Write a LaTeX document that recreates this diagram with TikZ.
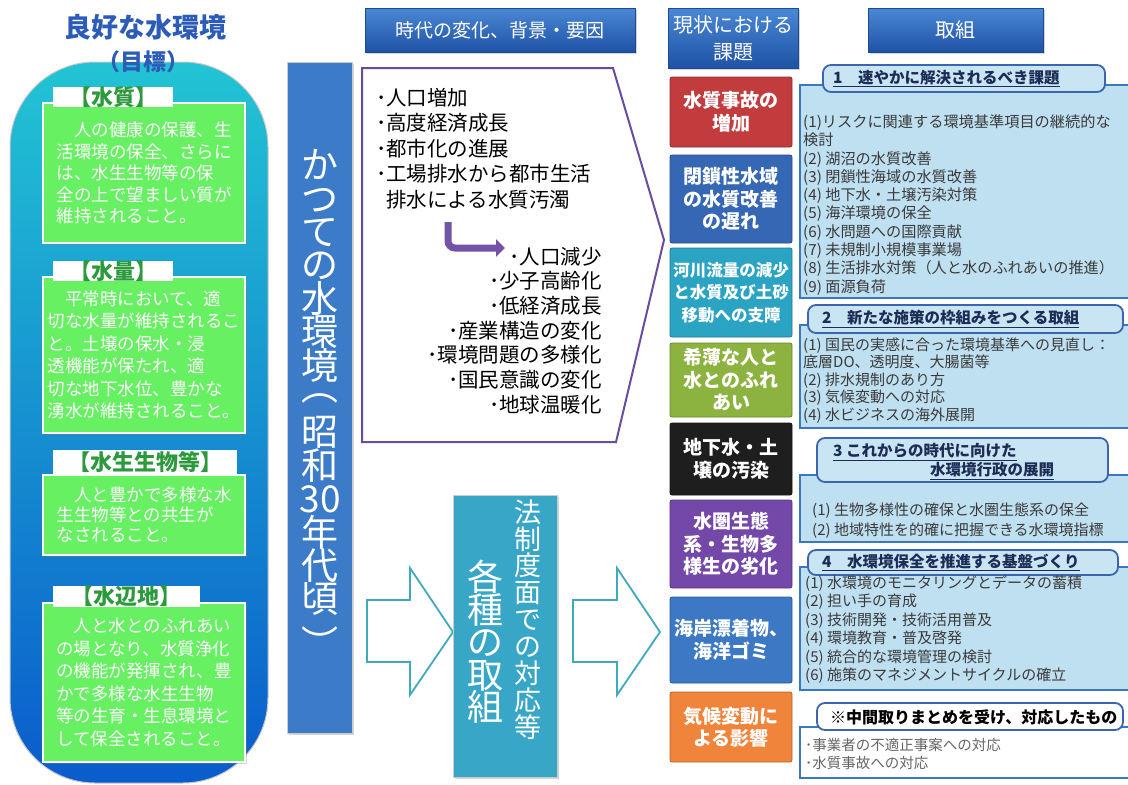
\documentclass[tikz,border=0pt]{standalone}
\usepackage{fontspec}
\usepackage{graphicx}
\setmainfont{Noto Sans CJK JP}
\usetikzlibrary{shadows,arrows.meta}
\definecolor{capTop}{HTML}{22C4D4}
\definecolor{capMid}{HTML}{1597D8}
\definecolor{capBot}{HTML}{0A5CCC}
\definecolor{gfill}{HTML}{66F062}
\definecolor{gtext}{HTML}{2C9A3C}
\definecolor{titleBlue}{HTML}{2C5CB8}
\definecolor{hdrTop}{HTML}{4A88D4}
\definecolor{hdrBot}{HTML}{1F52A6}
\definecolor{hdrLine}{HTML}{1E4A90}
\definecolor{pastBlue}{HTML}{3B7BC8}
\definecolor{kakuTeal}{HTML}{38A6C6}
\definecolor{pentLine}{HTML}{6A4C9E}
\definecolor{arrPurple}{HTML}{7452A6}
\definecolor{arrTeal}{HTML}{3FA9BF}
\definecolor{iRed}{HTML}{C23B3D}
\definecolor{iNavy}{HTML}{3567B4}
\definecolor{iTeal}{HTML}{2BA3C3}
\definecolor{iOlive}{HTML}{8CB23F}
\definecolor{iBlack}{HTML}{1E1E1E}
\definecolor{iPurple}{HTML}{7448A8}
\definecolor{iBlue}{HTML}{3C78C3}
\definecolor{iOrange}{HTML}{F0843A}
\definecolor{pfill}{HTML}{BFE0F1}
\definecolor{pline}{HTML}{3A78C2}
\definecolor{tfill}{HTML}{C9E5F4}
\definecolor{tline}{HTML}{3A66B0}
\definecolor{ttext}{HTML}{1C2C55}
\definecolor{itext}{HTML}{3A3A3A}
\newcommand{\vfont}[2]{\fontsize{#1}{#2}\selectfont\lineskiplimit-60pt\relax}
\begin{document}
\begin{tikzpicture}[x=1pt,y=-1pt,
  every node/.style={inner sep=0pt},
  shad/.style={drop shadow={shadow xshift=1.5pt,shadow yshift=-2pt,opacity=0.35}},
  capsule/.style={rounded corners=85, top color=capTop, middle color=capMid, bottom color=capBot, draw=gray!45, line width=1},
  hdr/.style={shad, draw=hdrLine, line width=0.6, top color=hdrTop, bottom color=hdrBot, text=white, align=center},
  colbox/.style={shad, draw=gray!40, line width=0.8, fill=#1},
  vt/.style={text=white, align=center, text width=46},
  issue/.style={minimum width=122, text=white, align=center, rounded corners=2, font=\bfseries\fontsize{19}{22.5}\selectfont, draw=#1!75!black, fill=#1, line width=0.8},
  gbox/.style={shad, fill=gfill, draw=white, line width=2, minimum width=202, text=white, align=left},
  gtab/.style={fill=white, text=gtext, font=\bfseries\fontsize{22}{24}\selectfont},
  pbody/.style={fill=pfill, draw=pline, line width=1.2, minimum width=335},
  ptab/.style={fill=tfill, draw=tline, line width=1.8, rounded corners=8},
  ptitle/.style={text=ttext, font=\bfseries\fontsize{15.5}{19}\selectfont, anchor=west},
  pitem/.style={text=itext, align=left, anchor=north west},
  pent/.style={fill=white, draw=pentLine, line width=2, line join=miter},
  bigarr/.style={fill=white, draw=arrTeal, line width=1.8, line join=miter},
  larrow/.style={draw=arrPurple, line width=7, rounded corners=7, -{Triangle[length=9pt,width=17pt]}}
]
\useasboundingbox (0,0) rectangle (1128,785);

% ---------------- left capsule ----------------
\node[capsule, minimum width=258, minimum height=721] (cap) at (139,422.5) {};
\node[font=\bfseries\fontsize{27}{30}\selectfont, text=titleBlue] (title) at (145,27) {良好な水環境};
\node[font=\bfseries\fontsize{23}{26}\selectfont, text=titleBlue] (goal) at (143,62) {（目標）};

\node[gbox, minimum height=140, font=\fontsize{17.5}{21.5}\selectfont] (gb1) at (144,173)
  {　人の健康の保護、生\\活環境の保全、さらに\\は、水生生物等の保\\全の上で望ましい質が\\維持されること。};
\node[gbox, minimum height=156, font=\fontsize{17.5}{22.5}\selectfont] (gb2) at (144,355)
  {　平常時において、適\\切な水量が維持されるこ\\と。土壌の保水・浸\\透機能が保たれ、適\\切な地下水位、豊かな\\湧水が維持されること。};
\node[gbox, minimum height=80, font=\fontsize{17.5}{20}\selectfont] (gb3) at (144,515)
  {　人と豊かで多様な水\\生生物等との共生が\\なされること。};
\node[gbox, minimum height=159, font=\fontsize{17.5}{22.5}\selectfont] (gb4) at (144,682.5)
  {　人と水とのふれあい\\の場となり、水質浄化\\の機能が発揮され、豊\\かで多様な水生生物\\等の生育・生息環境と\\して保全されること。};
\node[gtab, minimum width=120, minimum height=20] (gt1) at (113,97) {【水質】};
\node[gtab, minimum width=120, minimum height=20] (gt2) at (113,271) {【水量】};
\node[gtab, minimum width=184, minimum height=25] (gt3) at (145,462) {【水生生物等】};
\node[gtab, minimum width=147, minimum height=21] (gt4) at (126.5,596) {【水辺地】};

% ---------------- headers ----------------
\node[hdr, minimum width=270, minimum height=44, font=\fontsize{19}{23}\selectfont] (h1) at (500,30) {時代の変化、背景・要因};
\node[hdr, minimum width=130, minimum height=60, font=\fontsize{20}{27}\selectfont] (h2) at (733,38) {現状における\\課題};
\node[hdr, minimum width=175, minimum height=44, font=\fontsize{20}{23}\selectfont] (h3) at (955.5,30) {取組};

% ---------------- past column ----------------
\node[colbox=pastBlue, minimum width=65, minimum height=671] (past) at (319.5,397.5) {};
\node[vt, font={\vfont{37}{33.4}}] (pastT) at (320,403.5)
  {か\\つ\\て\\の\\水\\環\\境\\\raisebox{0.32em}{︵}\\昭\\和\\30\\年\\代\\頃\\\raisebox{-0.3em}{︶}};

% ---------------- pentagon ----------------
\draw[pent] (362,68) -- (613,68) -- (664,240) -- (616,442) -- (362,442) -- cycle;
\node[anchor=north west, align=left, font=\fontsize{20.5}{25.5}\selectfont] (oldL) at (376,87.75)
  {･人口増加\\･高度経済成長\\･都市化の進展\\･工場排水から都市生活\\\hspace*{0.5em}排水による水質汚濁};
\node[anchor=north east, align=right, font=\fontsize{20.5}{24.7}\selectfont] (newL) at (602,246.75)
  {･人口減少\\･少子高齢化\\･低経済成長\\･産業構造の変化\\･環境問題の多様化\\･国民意識の変化\\･地球温暖化};
\coordinate (la) at (448,222);
\coordinate (lb) at (505,248);
\draw[larrow] (la) |- (lb);

% ---------------- big arrows ----------------
\draw[bigarr] (367,600) -- (410,600) -- (410,568) -- (453,632) -- (410,695) -- (410,662) -- (367,662) -- cycle;
\draw[bigarr] (573,600) -- (617,600) -- (617,568) -- (660,632) -- (617,695) -- (617,662) -- (573,662) -- cycle;

% ---------------- kakushu box ----------------
\node[colbox=kakuTeal, minimum width=104, minimum height=282] (kaku) at (505,636) {};
\node[vt, font={\vfont{36}{32.5}}] (kakuA) at (485,642)
  {各\\種\\の\\取\\組};
\node[vt, text width=30, font={\vfont{27}{26.9}}] (kakuB) at (528,619.5)
  {法\\制\\度\\面\\で\\の\\対\\応\\等};

% ---------------- issues ----------------
\node[issue=iRed, minimum height=70] (i1) at (731,112) {水質事故の\\増加};
\node[issue=iNavy, minimum height=88] (i2) at (731,199) {閉鎖性水域\\の水質改善\\の遅れ};
\node[issue=iTeal, minimum height=89, font=\bfseries\fontsize{16.5}{22.5}\selectfont] (i3) at (731,292.5) {河川流量の減少\\と水質及び土砂\\移動への支障};
\node[issue=iOlive, minimum height=74] (i4) at (731,380) {希薄な人と\\水とのふれ\\あい};
\node[issue=iBlack, minimum height=72] (i5) at (731,459) {地下水・土\\壌の汚染};
\node[issue=iPurple, minimum height=88] (i6) at (731,544) {水圏生態\\系・生物多\\様生の劣化};
\node[issue=iBlue, minimum height=86] (i7) at (731,640) {海岸漂着物、\\海洋ゴミ};
\node[issue=iOrange, minimum height=70] (i8) at (731,727) {気候変動に\\よる影響};

% ---------------- panels ----------------
\node[pbody, minimum height=213] (p1) at (967.5,191.5) {};
\node[ptab, minimum width=282, minimum height=27] (p1t) at (964,78.5) {};
\node[ptitle] (p1tt) at (833,78.5) {\underline{1　速やかに解決されるべき課題}};
\node[pitem, font=\fontsize{15.2}{18.3}\selectfont] (p1i) at (803,114.4)
  {(1)リスクに関連する環境基準項目の継続的な\\検討\\(2) 湖沼の水質改善\\(3) 閉鎖性海域の水質改善\\(4) 地下水・土壌汚染対策\\(5) 海洋環境の保全\\(6) 水問題への国際貢献\\(7) 未規制小規模事業場\\(8) 生活排水対策（人と水のふれあいの推進）\\(9) 面源負荷};

\node[pbody, minimum height=103] (p2) at (967.5,376.5) {};
\node[ptab, minimum width=315, minimum height=28] (p2t) at (965.5,319) {};
\node[ptitle] (p2tt) at (822,319) {\underline{2　新たな施策の枠組みをつくる取組}};
\node[pitem, font=\fontsize{15}{17.5}\selectfont] (p2i) at (803,337.5)
  {(1) 国民の実感に合った環境基準への見直し：\\底層DO、透明度、大腸菌等\\(2) 排水規制のあり方\\(3) 気候変動への対応\\(4) 水ビジネスの海外展開};

\node[pbody, minimum height=67] (p3) at (967.5,508.5) {};
\node[ptab, minimum width=291, minimum height=44] (p3t) at (962.5,460) {};
\node[ptitle] (p3tt) at (833,452) {\underline{3 これからの時代に向けた}};
\node[ptitle] (p3tu) at (930,471) {\underline{水環境行政の展開}};
\node[pitem, font=\fontsize{15}{20}\selectfont] (p3i) at (812,502.5)
  {(1) 生物多様性の確保と水圏生態系の保全\\(2) 地域特性を的確に把握できる水環境指標};

\node[pbody, minimum height=123] (p4) at (967.5,628.5) {};
\node[ptab, minimum width=310, minimum height=25] (p4t) at (963,562.5) {};
\node[ptitle] (p4tt) at (822,562.5) {\underline{4　水環境保全を推進する基盤づくり}};
\node[pitem, font=\fontsize{15}{18.4}\selectfont] (p4i) at (805,575.5)
  {(1) 水環境のモニタリングとデータの蓄積\\(2) 担い手の育成\\(3) 技術開発・技術活用普及\\(4) 環境教育・普及啓発\\(5) 統合的な環境管理の検討\\(6) 施策のマネジメントサイクルの確立};

\node[pbody, fill=white, minimum height=51] (p5) at (967.5,752.5) {};
\node[ptab, fill=white, minimum width=306, minimum height=27] (p5t) at (970,716.5) {};
\node[ptitle, text=black, font=\bfseries\fontsize{16}{19}\selectfont] (p5tt) at (830,717) {※中間取りまとめを受け、対応したもの};
\node[pitem, text=gray!80!black, font=\fontsize{14.5}{18}\selectfont] (p5i) at (805,737.75)
  {･事業者の不適正事案への対応\\･水質事故への対応};
\end{tikzpicture}
\end{document}
